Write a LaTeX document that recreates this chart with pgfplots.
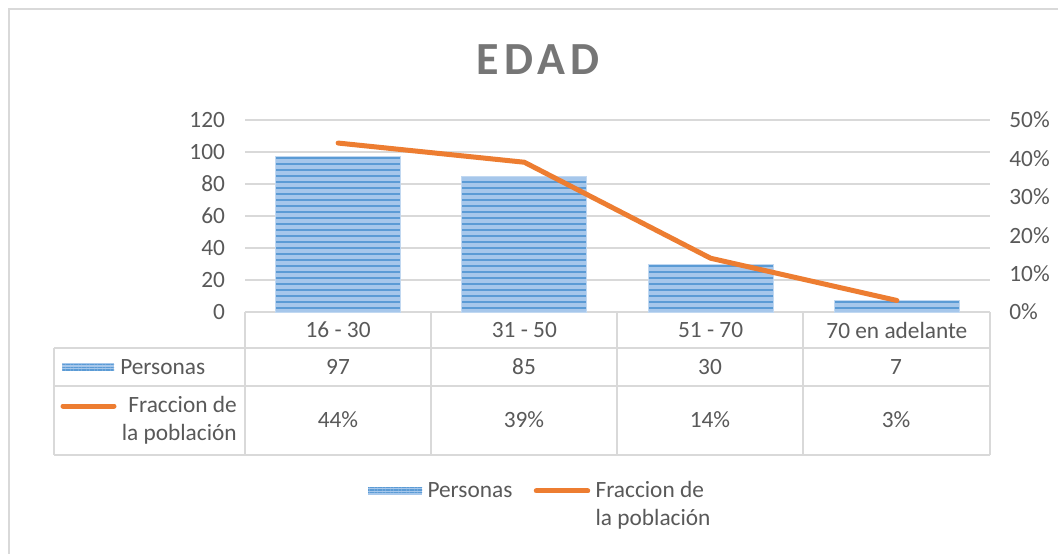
\documentclass[border=0pt]{standalone}
\usepackage{pgfplots}
\pgfplotsset{compat=1.18}
\usepackage{fontspec}
\setmainfont{Carlito}
\usetikzlibrary{patterns.meta}
\definecolor{barblue}{HTML}{5B9BD5}
\definecolor{barlight}{HTML}{A6C7EB}
\definecolor{lineor}{HTML}{ED7D31}
\definecolor{gridg}{HTML}{D9D9D9}
\definecolor{txt}{HTML}{595959}
\definecolor{ttl}{HTML}{767676}
\newcommand{\tfont}{\fontsize{17.5}{21}\selectfont}
\begin{document}
\begin{tikzpicture}[x=0.75pt,y=-0.75pt, font=\tfont]
\path[use as bounding box, fill=white] (0,0) rectangle (1058,554);
\draw[gridg, line width=1.5pt] (9,554) -- (9,9) -- (1058,9);
\node[ttl, font=\fontsize{34.5}{40}\selectfont\bfseries\addfontfeatures{LetterSpace=11}] at (538,60) {EDAD};
% table grid
\draw[gridg, line width=1pt] (54,348) -- (990,348) (54,386) -- (990,386) (54,455) -- (990,455);
\draw[gridg, line width=1pt] (54,348) -- (54,455);
\foreach \xx in {245,431,617,803,990} {\draw[gridg, line width=1pt] (\xx,312) -- (\xx,455);}
\coordinate (O) at (245,312);
\begin{axis}[at={(O)}, anchor=south west, scale only axis,
  width=558.75pt, height=144pt,
  xmin=-0.5, xmax=3.5, ymin=0, ymax=120,
  ytick={0,20,40,60,80,100,120},
  ymajorgrids, grid style={gridg, line width=1pt},
  axis line style={draw=none}, major tick style={draw=none},
  xtick={0,1,2,3}, xticklabels={16 - 30,31 - 50,51 - 70,70 en adelante},
  xticklabel style={anchor=center, yshift=-13.5pt},
  yticklabel style={xshift=-11.5pt},
  ticklabel style={txt, font=\tfont},
  /pgf/number format/assume math mode=true, clip=false]
\addplot[ybar, bar width=93.75pt, draw=barlight!70!white, line width=0.6pt,
  preaction={fill=barlight},
  pattern={Lines[angle=0,distance=4.5pt,line width=2.2pt]}, pattern color=barblue]
  coordinates {(0,97) (1,85) (2,30) (3,7)};
\end{axis}
\begin{axis}[at={(O)}, anchor=south west, scale only axis,
  width=558.75pt, height=144pt,
  xmin=-0.5, xmax=3.5, ymin=0, ymax=0.5,
  axis y line*=right, axis x line=none,
  ytick={0,0.1,0.2,0.3,0.4,0.5},
  yticklabels={0\%,10\%,20\%,30\%,40\%,50\%},
  axis line style={draw=none}, major tick style={draw=none},
  yticklabel style={xshift=11pt, txt, font=\tfont},
  clip=false,
  legend columns=2,
  legend cell align=left,
  legend style={draw=none, fill=none, inner sep=0pt,
    at={(axis description cs:0.165,-0.932)}, anchor=west,
    nodes={txt, inner sep=2pt, font=\tfont},
    /tikz/every odd column/.append style={column sep=2pt},
    /tikz/every even column/.append style={column sep=14pt}}]
\addlegendimage{legend image code/.code={
  \fill[barlight, draw=none] (0pt,-3pt) rectangle (40.5pt,3pt);
  \fill[draw=none, pattern={Lines[angle=0,distance=2pt,line width=1pt]}, pattern color=barblue] (0pt,-3pt) rectangle (40.5pt,3pt);}}
\addlegendentry{Personas}
\addplot[lineor, line width=3.75pt, line cap=round, line join=round, mark=none,
  legend image code/.code={\draw[lineor, line width=3.75pt, line cap=round] (1.9pt,0pt) -- (40.5pt,0pt);}]
  coordinates {(0,0.44) (1,0.39) (2,0.14) (3,0.03)};
\addlegendentry{\raisebox{0pt}[11.3pt][3.5pt]{\begin{tabular}[t]{@{}l@{}}Fraccion de\\la población\end{tabular}}}
\end{axis}
% table contents
\foreach \xx/\v in {338/97,524/85,710/30,896/7} {\node[txt] at (\xx,367) {\v};}
\foreach \xx/\v in {338/44,524/39,710/14,896/3} {\node[txt] at (\xx,420) {\v\%};}
\fill[barlight] (62,363) rectangle (114,371);
\fill[pattern={Lines[angle=0,distance=2pt,line width=1pt]}, pattern color=barblue] (62,363) rectangle (114,371);
\node[txt, anchor=west, inner sep=0pt] at (120,367) {Personas};
\draw[lineor, line width=3.75pt, line cap=round] (63,406) -- (114,406);
\node[txt, anchor=east, align=right, inner sep=0pt] at (237,420) {Fraccion de\\la población};
\end{tikzpicture}
\end{document}
